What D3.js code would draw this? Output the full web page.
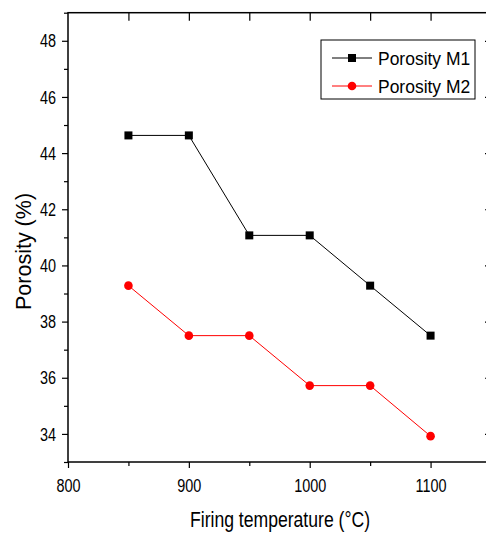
<!DOCTYPE html>
<html><head><meta charset="utf-8">
<script src="https://cdn.jsdelivr.net/npm/d3@7"></script>
<style>
body{margin:0;background:#fff;}
text{font-family:"Liberation Sans",Arial,sans-serif;}
</style></head><body>
<svg id="c" width="486" height="533"></svg>
<script>
const temperatures = [850, 900, 950, 1000, 1050, 1100];
const porosityM1 = [44.63, 44.63, 41.07, 41.07, 39.28, 37.5];
const porosityM2 = [39.28, 37.5, 37.5, 35.72, 35.72, 33.92];
const xTicks = [800, 900, 1000, 1100];
const yTicks = [34, 36, 38, 40, 42, 44, 46, 48];
const seriesNames = ["Porosity M1", "Porosity M2"];

const svg = d3.select("#c");
const L = 68, R = 491, T = 12.7, B = 462;
const x = d3.scaleLinear().domain([800, 1150]).range([L, R]);
const y = d3.scaleLinear().domain([33, 49]).range([B, T]);

function condense(sel, s) {
  sel.each(function() {
    const t = d3.select(this);
    const xv = +(t.attr("x") || 0);
    t.attr("x", xv / s).attr("transform", `scale(${s},1)`);
  });
}

// frame
svg.append("rect").attr("x", L).attr("y", T).attr("width", R - L).attr("height", B - T)
  .attr("fill", "none").attr("stroke", "#000").attr("stroke-width", 1.5);

const g = svg.append("g");
// bottom axis
g.append("g").attr("class", "lab").attr("transform", `translate(0,${B})`)
  .call(d3.axisBottom(x).tickValues(xTicks).tickSize(6).tickPadding(10.5).tickFormat(d3.format("d")));
g.append("g").attr("transform", `translate(0,${B})`)
  .call(d3.axisBottom(x).tickValues([850, 950, 1050, 1150]).tickSize(4).tickFormat(""));
// left axis
g.append("g").attr("class", "lab").attr("transform", `translate(${L},0)`)
  .call(d3.axisLeft(y).tickValues(yTicks).tickSize(6).tickPadding(6).tickFormat(d3.format("d")));
g.append("g").attr("transform", `translate(${L},0)`)
  .call(d3.axisLeft(y).tickValues([33,35,37,39,41,43,45,47,49]).tickSize(4).tickFormat(""));
// top axis (inward)
g.append("g").attr("transform", `translate(0,${T})`)
  .call(d3.axisTop(x).tickValues([850,900,950,1000,1050,1100]).tickSize(-8).tickFormat(""));
// right axis (inward)
g.append("g").attr("transform", `translate(${R},0)`)
  .call(d3.axisRight(y).tickValues(yTicks).tickSize(-6).tickFormat(""));

g.selectAll(".domain").remove();
g.selectAll(".tick line").attr("stroke", "#000").attr("stroke-width", 1.2);
g.selectAll(".tick text").attr("font-size", 19).attr("fill", "#000")
  .style("font-family", '"Liberation Sans",Arial,sans-serif');
condense(g.selectAll(".lab .tick text"), 0.76);

// titles
svg.append("text").attr("x", 280 / 0.8).attr("y", 527.5).attr("text-anchor", "middle")
  .attr("transform", "scale(0.8,1)").attr("font-size", 22).text("Firing temperature (°C)");
svg.append("text").attr("transform", "translate(30.5,251.5) rotate(-90)").attr("text-anchor", "middle")
  .attr("font-size", 21.5).text("Porosity (%)");

const line = d3.line().x((d, i) => x(temperatures[i])).y(d => y(d));
// M1
svg.append("path").datum(porosityM1).attr("d", line).attr("fill", "none").attr("stroke", "#000").attr("stroke-width", 1);
svg.selectAll(".m1").data(porosityM1).join("rect").attr("class", "m1")
  .attr("x", (d, i) => x(temperatures[i]) - 4).attr("y", d => y(d) - 4)
  .attr("width", 8).attr("height", 8).attr("fill", "#000");
// M2
svg.append("path").datum(porosityM2).attr("d", line).attr("fill", "none").attr("stroke", "#ff0000").attr("stroke-width", 1);
svg.selectAll(".m2").data(porosityM2).join("ellipse").attr("class", "m2")
  .attr("cx", (d, i) => x(temperatures[i])).attr("cy", d => y(d))
  .attr("rx", 4.3).attr("ry", 4.3).attr("fill", "#ff0000");

// legend
const lg = svg.append("g");
lg.append("rect").attr("x", 321).attr("y", 40).attr("width", 154).attr("height", 59)
  .attr("fill", "#fff").attr("stroke", "#000").attr("stroke-width", 1);
const colors = ["#000", "#ff0000"];
seriesNames.forEach((n, i) => {
  const yy = 58 + i * 28;
  lg.append("line").attr("x1", 332).attr("x2", 372).attr("y1", yy).attr("y2", yy)
    .attr("stroke", colors[i]).attr("stroke-width", 1);
  if (i === 0) lg.append("rect").attr("x", 348).attr("y", yy - 4).attr("width", 8).attr("height", 8).attr("fill", "#000");
  else lg.append("circle").attr("cx", 352).attr("cy", yy).attr("r", 4.3).attr("fill", "#ff0000");
  lg.append("text").attr("x", 378 / 0.92).attr("y", yy + 7).attr("transform", "scale(0.92,1)")
    .attr("font-size", 19).text(n);
});
</script></body></html>
